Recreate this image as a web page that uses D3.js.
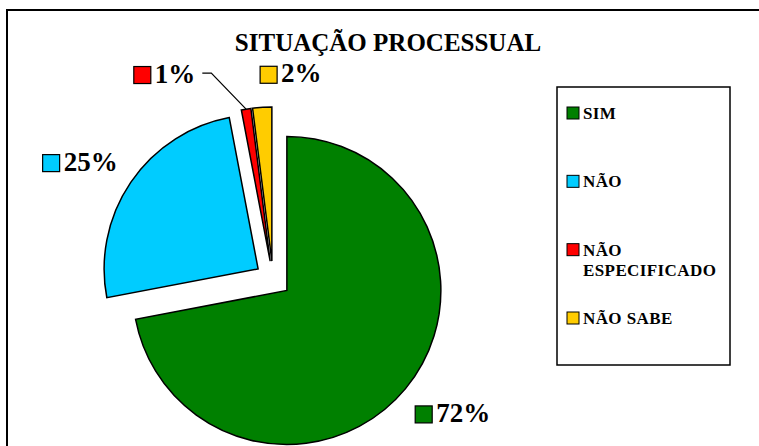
<!DOCTYPE html>
<html>
<head>
<meta charset="utf-8">
<script src="https://cdn.jsdelivr.net/npm/d3@7/dist/d3.min.js"></script>
<style>
  html, body { margin: 0; padding: 0; background: #fff; }
  svg { display: block; }
  text { font-family: "Liberation Serif", "Times New Roman", serif; font-weight: bold; fill: #000; }
</style>
</head>
<body>
<svg id="chart" width="759" height="446"></svg>
<script>
// Situação processual — share of cases per answer
const categories = ["SIM", "NÃO", "NÃO ESPECIFICADO", "NÃO SABE"];
const percentages = [72, 25, 1, 2];
const sliceColors = ["#008000", "#00CCFF", "#FF0000", "#FFCC00"];
const title = "SITUAÇÃO PROCESSUAL";

const width = 759, height = 446;
const svg = d3.select("#chart");

// Chart area frame (runs past the right and bottom edges)
svg.append("rect")
  .attr("x", 7).attr("y", 10)
  .attr("width", 820).attr("height", 520)
  .attr("fill", "#fff")
  .attr("stroke", "#000")
  .attr("stroke-width", 2);

svg.append("text")
  .attr("x", 388).attr("y", 51)
  .attr("text-anchor", "middle")
  .style("font-size", "25px")
  .text(title);

// Pie geometry
const cx = 273, cy = 279, radius = 154, explode = 18;

const pie = d3.pie().sort(null).value(d => d.value);
const arcs = pie(categories.map((c, i) => ({ name: c, value: percentages[i], color: sliceColors[i] })));
const arcGen = d3.arc().innerRadius(0).outerRadius(radius);

const dir = a => [Math.sin(a), -Math.cos(a)];

const pieG = svg.append("g").attr("transform", `translate(${cx},${cy})`);

pieG.selectAll("path.slice")
  .data(arcs)
  .join("path")
  .attr("class", "slice")
  .attr("transform", d => {
    const [ux, uy] = dir((d.startAngle + d.endAngle) / 2);
    return `translate(${ux * explode},${uy * explode})`;
  })
  .attr("d", arcGen)
  .attr("fill", d => d.data.color)
  .attr("stroke", "#000")
  .attr("stroke-width", 1.5)
  .attr("stroke-linejoin", "miter");

// Data labels: colour key + percentage, placed around the pie (angle in degrees, distance from centre)
const labelLayout = [
  { angle: 127, dist: 225 },
  { angle: 301, dist: 225 },
  { angle: 332, dist: 231 },
  { angle: 5,   dist: 205 }
];
const labelSize = 27, keySize = 17;

arcs.forEach((d, i) => {
  const lay = labelLayout[i];
  const a = lay.angle * Math.PI / 180;
  const [ux, uy] = dir(a);
  const lx = ux * lay.dist, ly = uy * lay.dist;
  const g = pieG.append("g").attr("class", "label");
  const txt = g.append("text")
    .style("font-size", labelSize + "px")
    .text(d3.format(".0f")(d.data.value) + "%");
  const tw = txt.node().getComputedTextLength();
  const total = keySize + 4 + tw;
  const x0 = lx - total / 2;
  g.append("rect")
    .attr("x", x0).attr("y", ly - keySize / 2)
    .attr("width", keySize).attr("height", keySize)
    .attr("fill", d.data.color)
    .attr("stroke", "#000").attr("stroke-width", 1.2);
  txt.attr("x", x0 + keySize + 4).attr("y", ly + keySize / 2 - 1);
  d.labelRight = x0 + total;
  d.labelY = ly - 2;
});

// Leader line for the smallest slice
{
  const d = arcs[2];
  const mid = (d.startAngle + d.endAngle) / 2;
  const [ux, uy] = dir(mid);
  const tip = [ux * (explode + radius), uy * (explode + radius)];
  const start = [d.labelRight + 7, d.labelY];
  pieG.append("path")
    .attr("d", d3.line()([start, [start[0] + 9, start[1]], tip]))
    .attr("fill", "none")
    .attr("stroke", "#000")
    .attr("stroke-width", 1.2);
}

// Legend
const legend = svg.append("g");
legend.append("rect")
  .attr("x", 557).attr("y", 87)
  .attr("width", 173).attr("height", 278)
  .attr("fill", "#fff")
  .attr("stroke", "#000")
  .attr("stroke-width", 1.5);

const legendTops = d3.scalePoint().domain(categories).range([107, 312]);
categories.forEach((c, i) => {
  const y = legendTops(c);
  legend.append("rect")
    .attr("x", 567).attr("y", y)
    .attr("width", 12).attr("height", 12)
    .attr("fill", sliceColors[i])
    .attr("stroke", "#000").attr("stroke-width", 1);
  const words = c === "NÃO ESPECIFICADO" ? ["NÃO", "ESPECIFICADO"] : [c];
  const t = legend.append("text")
    .attr("x", 583).attr("y", y + 12)
    .style("font-size", "17px")
    .style("letter-spacing", "0.4px");
  words.forEach((w, k) => {
    t.append("tspan").attr("x", 583).attr("dy", k === 0 ? 0 : 20).text(w);
  });
});
</script>
</body>
</html>
